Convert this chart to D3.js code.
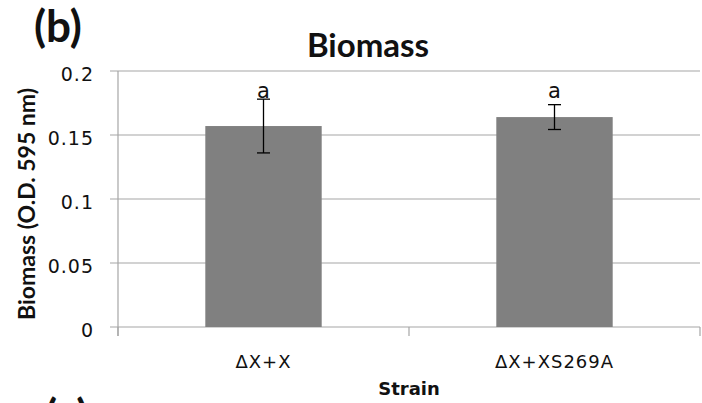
<!DOCTYPE html>
<html>
<head>
<meta charset="utf-8">
<script src="https://cdn.jsdelivr.net/npm/d3@7"></script>
<style>
  body { margin: 0; background: #fff; }
  svg { display: block; }
</style>
</head>
<body>
<svg id="chart" width="702" height="403"></svg>
<script>
// data
const strains = ["\u0394X+X", "\u0394X+XS269A"];
const biomass = [0.157, 0.164];
const errors = [0.021, 0.0097];
const letters = ["a", "a"];
const yTicks = [0, 0.05, 0.1, 0.15, 0.2];

const svg = d3.select("#chart");
const margin = {left: 118, right: 2, top: 71, bottom: 76};
const width = 702, height = 403;

const x = d3.scaleBand()
    .domain(strains)
    .range([margin.left, width - margin.right])
    .paddingInner(0.6)
    .paddingOuter(0.3);
// band edges (for the category ticks)
const xOuter = d3.scaleBand().domain(strains).range([margin.left, width - margin.right]);

const y = d3.scaleLinear()
    .domain([0, 0.2])
    .range([height - margin.bottom, margin.top]);

const gridColor = "#a6a6a6";
const textColor = "#111";

//gridlines
svg.append("g")
    .selectAll("line")
    .data(yTicks)
    .join("line")
    .attr("x1", margin.left - 8)
    .attr("x2", width - margin.right)
    .attr("y1", d => y(d))
    .attr("y2", d => y(d))
    .attr("stroke", gridColor)
    .attr("stroke-width", 1.2)

//y axis line
svg.append("line")
    .attr("x1", margin.left).attr("x2", margin.left)
    .attr("y1", y(0.2)).attr("y2", y(0) + 9)
    .attr("stroke", gridColor)
    .attr("stroke-width", 1.2)

//x category ticks
const xTickPos = strains.map(s => xOuter(s)).concat([width - margin.right]);
svg.append("g")
    .selectAll("line")
    .data(xTickPos)
    .join("line")
    .attr("x1", d => d).attr("x2", d => d)
    .attr("y1", y(0)).attr("y2", y(0) + 9)
    .attr("stroke", gridColor)
    .attr("stroke-width", 1.2)

//y tick labels
svg.append("g")
    .selectAll("text")
    .data(yTicks)
    .join("text")
    .attr("x", margin.left - 24)
    .attr("y", d => y(d) + 9.5)
    .attr("text-anchor", "end")
    .attr("font-family", "DejaVu Sans")
    .attr("font-size", 19)
    .attr("letter-spacing", 1)
    .attr("fill", textColor)
    .text(d => d3.format("")(d))

//bars
svg.append("g")
    .selectAll("rect")
    .data(strains)
    .join("rect")
    .attr("x", d => x(d))
    .attr("y", (d, i) => y(biomass[i]))
    .attr("width", x.bandwidth())
    .attr("height", (d, i) => y(0) - y(biomass[i]))
    .attr("fill", "#808080")

//error bars
const err = svg.append("g").attr("stroke", "#000").attr("stroke-width", 1.3);
strains.forEach((s, i) => {
    const cx = x(s) + x.bandwidth() / 2;
    const hi = y(biomass[i] + errors[i]);
    const lo = y(biomass[i] - errors[i]);
    err.append("line").attr("x1", cx).attr("x2", cx).attr("y1", hi).attr("y2", lo);
    err.append("line").attr("x1", cx - 6.5).attr("x2", cx + 6.5).attr("y1", hi).attr("y2", hi);
    err.append("line").attr("x1", cx - 6.5).attr("x2", cx + 6.5).attr("y1", lo).attr("y2", lo);
});

//significance letters, all on one row above the highest error bar
const letterY = y(d3.max(biomass.map((b, i) => b + errors[i])));
svg.append("g")
    .selectAll("text")
    .data(strains)
    .join("text")
    .attr("x", d => x(d) + x.bandwidth() / 2)
    .attr("y", letterY - 1)
    .attr("text-anchor", "middle")
    .attr("font-family", "DejaVu Sans")
    .attr("font-size", 21)
    .attr("fill", textColor)
    .text((d, i) => letters[i])

//category labels
svg.append("g")
    .selectAll("text")
    .data(strains)
    .join("text")
    .attr("x", d => x(d) + x.bandwidth() / 2)
    .attr("y", y(0) + 41)
    .attr("text-anchor", "middle")
    .attr("font-family", "DejaVu Sans")
    .attr("font-size", 18)
    .attr("letter-spacing", 1)
    .attr("fill", textColor)
    .text(d => d)

//axis titles
svg.append("text")
    .attr("x", (margin.left + width - margin.right) / 2)
    .attr("y", 395)
    .attr("text-anchor", "middle")
    .attr("font-family", "DejaVu Sans")
    .attr("font-weight", "bold")
    .attr("font-size", 18)
    .attr("fill", textColor)
    .text("Strain")

svg.append("text")
    .attr("transform", `translate(35,204) rotate(-90)`)
    .attr("text-anchor", "middle")
    .attr("font-family", "Lato")
    .attr("font-weight", "bold")
    .attr("font-size", 23)
    .attr("fill", textColor)
    .text("Biomass (O.D. 595 nm)")

//chart title
svg.append("text")
    .attr("x", 368)
    .attr("y", 57)
    .attr("text-anchor", "middle")
    .attr("font-family", "Lato")
    .attr("font-weight", "bold")
    .attr("font-size", 33)
    .attr("fill", textColor)
    .text("Biomass")

//panel labels (the next panel's label is cut by the bottom edge, as in the figure)
svg.append("text")
    .attr("x", 34)
    .attr("y", 42)
    .attr("font-family", "Lato")
    .attr("font-weight", "bold")
    .attr("font-size", 44)
    .attr("fill", textColor)
    .text("(b)")

svg.append("text")
    .attr("x", 45)
    .attr("y", 431)
    .attr("font-family", "Lato")
    .attr("font-weight", "bold")
    .attr("font-size", 44)
    .attr("fill", textColor)
    .text("(c)")
</script>
</body>
</html>
